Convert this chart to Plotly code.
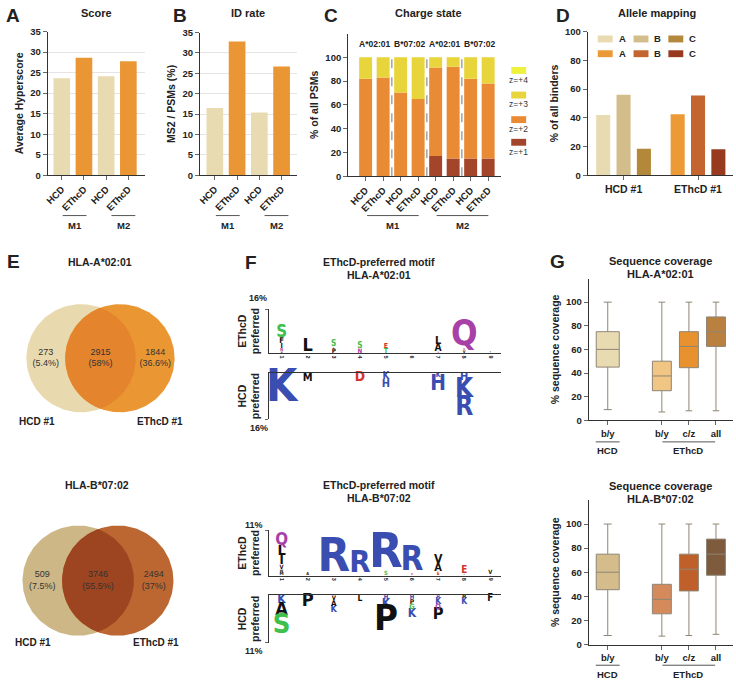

# plot.py
# Multi-panel figure: fragmentation scores, ID rate, charge state, allele mapping,
# overlap Venns, difference motifs and sequence coverage boxes.

import numpy as np
import plotly.graph_objects as go

# ── DATA ──────────────────────────────────────────────────────────────────────

FRAG = ["HCD", "EThcD", "HCD", "EThcD"]
SCORE = [23.6, 28.6, 24.1, 27.8]
ID_RATE = [16.5, 32.8, 15.4, 26.7]

CHARGE_FRAG = FRAG + FRAG
CHARGE_ALLELE = ["A*02:01", "B*07:02", "A*02:01", "B*07:02"]
Z1 = [0, 0, 0, 0, 17, 15, 15, 15]
Z2 = [82, 83, 70.5, 65, 74.5, 77, 67, 63]
Z3 = [18, 17, 29.5, 35, 8.5, 8, 18, 22]
Z4 = [0, 0, 0, 0, 0, 0, 0, 0]

BIND_GROUPS = ["HCD #1", "EThcD #1"]
BIND_A = [42, 42.5]
BIND_B = [56, 55.5]
BIND_C = [18.5, 18]

VENN_A = [273, 2915, 1844]
VENN_A_PCT = ["5.4%", "58%", "36.6%"]
VENN_B = [509, 3746, 2494]
VENN_B_PCT = ["7.5%", "55.5%", "37%"]

# motif stacks per position 1..9, (residue, % height), listed from the baseline outwards
MOTIF_A_ETHCD = [
    [("M", 0.5), ("N", 1.1), ("I", 1.8), ("F", 2.0), ("S", 4.3)],
    [("L", 4.6)],
    [("P", 1.6), ("L", 0.6), ("S", 2.1)],
    [("N", 1.6), ("S", 2.1)],
    [("T", 1.8), ("E", 1.8)],
    [],
    [("Q", 0.5), ("A", 2.6), ("L", 2.8)],
    [("V", 1.0), ("N", 0.6), ("Q", 8.9)],
    [("T", 0.4), ("V", 0.4)],
]
MOTIF_A_HCD = [
    [("S", 0.3), ("K", 11.0)],
    [("Q", 0.3), ("M", 2.7)],
    [],
    [("D", 3.4)],
    [("K", 2.4), ("H", 2.7)],
    [],
    [("K", 1.7), ("H", 5.1)],
    [("H", 2.7), ("K", 6.4), ("R", 6.4)],
    [],
]
MOTIF_B_ETHCD = [
    [("M", 0.8), ("W", 0.6), ("V", 1.0), ("I", 2.2), ("L", 2.5), ("Q", 2.9)],
    [("A", 0.7)],
    [("R", 8.1)],
    [("R", 5.3)],
    [("S", 1.0), ("R", 8.4)],
    [("E", 0.5), ("R", 5.7)],
    [("E", 0.8), ("A", 1.9), ("V", 2.1)],
    [("L", 0.3), ("E", 1.7)],
    [("Q", 0.2), ("V", 1.0)],
]
MOTIF_B_HCD = [
    [("K", 2.0), ("A", 3.0), ("S", 4.5)],
    [("P", 3.0)],
    [("G", 0.3), ("V", 1.0), ("A", 1.3), ("K", 1.5)],
    [("L", 1.4)],
    [("H", 1.0), ("K", 2.0), ("P", 6.0)],
    [("H", 1.0), ("P", 1.1), ("G", 1.2), ("K", 2.0)],
    [("H", 0.7), ("K", 1.4), ("Q", 1.2), ("P", 2.7)],
    [("M", 0.7), ("K", 1.4)],
    [("F", 1.6)],
]
MOTIF_POS = list(range(1, 10))

COV_CATS = ["HCD b/y", "EThcD b/y", "EThcD c/z", "EThcD all"]
COV_TICKS = ["b/y", "b/y", "c/z", "all"]
COV_A_MIN = [9, 7, 8, 8]
COV_A_Q1 = [45, 25, 44.5, 62.5]
COV_A_MED = [60, 37.5, 62.5, 75]
COV_A_Q3 = [75, 50, 75, 87.5]
COV_A_MAX = [100, 100, 100, 100]
COV_B_MIN = [7.5, 7, 7.5, 8.5]
COV_B_Q1 = [45.5, 25.5, 44.5, 57.5]
COV_B_MED = [60, 37.5, 62.5, 75]
COV_B_Q3 = [75, 50, 75, 87.5]
COV_B_MAX = [100, 100, 100, 100]

# ── STYLE ─────────────────────────────────────────────────────────────────────

W, H = 736, 684
FONT = "Liberation Sans, Arial, sans-serif"
NARROW = "Liberation Sans Narrow, DejaVu Sans Condensed, Liberation Sans, sans-serif"
INK = "#222222"

HCD_C = "#E9DBB1"
ETH_C = "#EA9634"
Z_COLORS = ["#A3452A", "#E98B34", "#E8D53C", "#EEF23C"]
D_HCD = ["#E9DBB1", "#D3BD8B", "#B3883A"]
D_ETH = ["#EC9A36", "#C4642F", "#983A20"]
VENN_A_COLORS = ["#E9D9AF", "#EA9733", "#E4842D"]
VENN_B_COLORS = ["#CEB786", "#BC6631", "#9D4521"]
COV_A_COLORS = ["#E9DBB1", "#F1C583", "#E8922F", "#B98040"]
COV_B_COLORS = ["#D4BD8B", "#D58A5C", "#BF5F2A", "#7E5B3D"]

AA_COLOR = {}
for aa in "GSTYC":
    AA_COLOR[aa] = "#3FBF4C"
for aa in "NQ":
    AA_COLOR[aa] = "#A741A7"
for aa in "DE":
    AA_COLOR[aa] = "#D8322C"
for aa in "KRH":
    AA_COLOR[aa] = "#3A4DB1"
for aa in "AVLIPWFM":
    AA_COLOR[aa] = "#111111"

VENN_GAP = 0.71  # centre distance / radius


def xdom(a, b):
    return [a / W, b / W]


def ydom(top, bottom):
    return [1 - bottom / H, 1 - top / H]


def axis(**kw):
    base = dict(
        showline=True, linecolor="#333333", linewidth=1,
        ticks="outside", ticklen=4, tickwidth=1, tickcolor="#666666",
        tickfont=dict(family=FONT, size=9.5, color=INK, weight="bold"),
        showgrid=False, zeroline=False, fixedrange=True,
    )
    base.update(kw)
    return base


def ytitle(text, standoff=4):
    return dict(text=text, font=dict(family=FONT, size=10.5, color=INK, weight="bold"), standoff=standoff)


annotations = []
shapes = []


def label(x, y, text, size=10.5, bold=True, anchor="center", color=INK):
    annotations.append(dict(
        x=x / W, y=1 - y / H, xref="paper", yref="paper", showarrow=False,
        text=f"<b>{text}</b>" if bold else text, xanchor=anchor, yanchor="middle",
        font=dict(family=FONT, size=size, color=color),
    ))


def hline(x0, x1, y, color="#555555"):
    shapes.append(dict(type="line", xref="paper", yref="paper",
                       x0=x0 / W, x1=x1 / W, y0=1 - y / H, y1=1 - y / H,
                       line=dict(color=color, width=1)))


def box(x0, x1, y0, y1, color):
    shapes.append(dict(type="rect", xref="paper", yref="paper",
                       x0=x0 / W, x1=x1 / W, y0=1 - y1 / H, y1=1 - y0 / H,
                       fillcolor=color, line=dict(width=0)))


fig = go.Figure()

# ── A / B: score and ID rate ──────────────────────────────────────────────────

frag_colors = [HCD_C if f == "HCD" else ETH_C for f in FRAG]
fig.add_trace(go.Bar(x=list(range(len(FRAG))), y=SCORE, marker=dict(color=frag_colors, line=dict(width=0)),
                     width=0.75, xaxis="x", yaxis="y", hoverinfo="skip"))
fig.add_trace(go.Bar(x=list(range(len(FRAG))), y=ID_RATE, marker=dict(color=frag_colors, line=dict(width=0)),
                     width=0.75, xaxis="x2", yaxis="y2", hoverinfo="skip"))

# ── C: charge state (stacked through base) ────────────────────────────────────

z_stack = np.array([Z1, Z2, Z3, Z4], dtype=float)
z_base = np.vstack([np.zeros(len(Z1)), np.cumsum(z_stack, axis=0)[:-1]])
for i in range(4):
    fig.add_trace(go.Bar(x=list(range(len(Z1))), y=z_stack[i], base=z_base[i], width=0.74,
                         marker=dict(color=Z_COLORS[i], line=dict(width=0)), offsetgroup="charge",
                         xaxis="x3", yaxis="y3", hoverinfo="skip"))

# ── D: allele mapping ─────────────────────────────────────────────────────────

for i, vals in enumerate([BIND_A, BIND_B, BIND_C]):
    fig.add_trace(go.Bar(x=BIND_GROUPS, y=vals, marker=dict(color=[D_HCD[i], D_ETH[i]], line=dict(width=0)),
                         offsetgroup=f"allele{i}", xaxis="x4", yaxis="y4", hoverinfo="skip"))

# ── E: Venn diagrams ──────────────────────────────────────────────────────────


def venn(counts, pcts, colors, xa, ya):
    half = VENN_GAP / 2
    t = np.linspace(0, 2 * np.pi, 181)
    fig.add_trace(go.Scatter(x=-half + np.cos(t), y=np.sin(t), fill="toself", fillcolor=colors[0],
                             mode="lines", line=dict(width=0), xaxis=xa, yaxis=ya, hoverinfo="skip"))
    fig.add_trace(go.Scatter(x=half + np.cos(t), y=np.sin(t), fill="toself", fillcolor=colors[1],
                             mode="lines", line=dict(width=0), xaxis=xa, yaxis=ya, hoverinfo="skip"))
    a = np.arccos(half)
    t1 = np.linspace(-a, a, 90)
    t2 = np.linspace(np.pi - a, np.pi + a, 90)
    lx = np.concatenate([-half + np.cos(t1), half + np.cos(t2)])
    ly = np.concatenate([np.sin(t1), np.sin(t2)])
    fig.add_trace(go.Scatter(x=lx, y=ly, fill="toself", fillcolor=colors[2], mode="lines",
                             line=dict(width=0), xaxis=xa, yaxis=ya, hoverinfo="skip"))
    # region centres: left-only, lens, right-only
    cx = [-1.0, 0.0, 1.0]
    fig.add_trace(go.Scatter(x=cx, y=[0, 0, 0], mode="text",
                             text=[f"{c}<br>({p})" for c, p in zip(counts, pcts)],
                             textfont=dict(family=FONT, size=9, color="#333333"),
                             xaxis=xa, yaxis=ya, hoverinfo="skip"))


venn(VENN_A, VENN_A_PCT, VENN_A_COLORS, "x5", "y5")
venn(VENN_B, VENN_B_PCT, VENN_B_COLORS, "x6", "y6")

# ── F: difference motifs ──────────────────────────────────────────────────────


def motif(stacks, sign, px_per_unit, xa, ya):
    by_color = {}
    for pos, stack in zip(MOTIF_POS, stacks):
        level = 0.0
        for aa, h in stack:
            mid = level + h / 2
            level += h
            d = by_color.setdefault(AA_COLOR[aa], dict(x=[], y=[], t=[], s=[]))
            d["x"].append(pos)
            d["y"].append(sign * mid)
            d["t"].append(aa)
            d["s"].append(max(h * px_per_unit / 0.72, 1))
    for color, d in by_color.items():
        fig.add_trace(go.Scatter(x=d["x"], y=d["y"], text=d["t"], mode="text",
                                 textfont=dict(family=NARROW, size=d["s"], color=color, weight="bold"),
                                 cliponaxis=False, xaxis=xa, yaxis=ya, hoverinfo="skip"))


motif(MOTIF_A_ETHCD, 1, 45 / 16, "x7", "y7")
motif(MOTIF_A_HCD, -1, 47 / 16, "x8", "y8")
motif(MOTIF_B_ETHCD, 1, 46 / 11, "x9", "y9")
motif(MOTIF_B_HCD, -1, 48 / 11, "x10", "y10")

# ── G: sequence coverage boxes ────────────────────────────────────────────────


def coverage(mins, q1s, meds, q3s, maxs, colors, xa, ya):
    for i, cat in enumerate(COV_CATS):
        fig.add_trace(go.Box(
            x=[cat], q1=[q1s[i]], median=[meds[i]], q3=[q3s[i]],
            lowerfence=[mins[i]], upperfence=[maxs[i]],
            fillcolor=colors[i], line=dict(color="#8f8575", width=1),
            width=0.85 if i == 0 else 0.7, whiskerwidth=0.35, boxpoints=False,
            xaxis=xa, yaxis=ya, hoverinfo="skip",
        ))


coverage(COV_A_MIN, COV_A_Q1, COV_A_MED, COV_A_Q3, COV_A_MAX, COV_A_COLORS, "x11", "y11")
coverage(COV_B_MIN, COV_B_Q1, COV_B_MED, COV_B_Q3, COV_B_MAX, COV_B_COLORS, "x12", "y12")

# ── AXES ──────────────────────────────────────────────────────────────────────

grid = dict(showgrid=True, gridcolor="#e4e4e4", gridwidth=1)
rot = dict(tickangle=-45, tickfont=dict(family=FONT, size=9.5, color=INK, weight="bold"))
cov_order = [COV_CATS[0], "gap", *COV_CATS[1:]]
hidden = dict(visible=False, fixedrange=True)
motif_x = dict(range=[0.5, 9.42], ticks="", tickvals=MOTIF_POS, tickangle=90,
               tickfont=dict(family=FONT, size=5.5, color=INK, weight="bold"))

layout_axes = dict(
    xaxis=axis(domain=xdom(44, 142), anchor="y", range=[-0.63, 3.76], tickvals=list(range(4)), ticktext=FRAG, **rot),
    yaxis=axis(domain=ydom(26, 172), anchor="x", range=[0, 35], dtick=5, title=ytitle("Average Hyperscore"), **grid),
    xaxis2=axis(domain=xdom(197, 295), anchor="y2", range=[-0.67, 3.71], tickvals=list(range(4)), ticktext=FRAG, **rot),
    yaxis2=axis(domain=ydom(27, 172), anchor="x2", range=[0, 35], dtick=5, title=ytitle("MS2 / PSMs (%)"), **grid),
    xaxis3=axis(domain=xdom(346, 500), anchor="y3", range=[-1.0, 7.75], tickvals=list(range(8)), ticktext=CHARGE_FRAG, **rot),
    yaxis3=axis(domain=ydom(28, 173), anchor="x3", range=[0, 120], tickvals=[0, 20, 40, 60, 80, 100],
                title=ytitle("% of all PSMs")),
    xaxis4=axis(domain=xdom(587, 733), anchor="y4", type="category", range=[-0.48, 1.47],
                tickfont=dict(family=FONT, size=10.5, color=INK, weight="bold")),
    yaxis4=axis(domain=ydom(26, 172), anchor="x4", range=[0, 100], dtick=20, title=ytitle("% of all binders")),
    xaxis5=dict(domain=xdom(7, 187), anchor="y5", range=[-90 / 55, 90 / 55], **hidden),
    yaxis5=dict(domain=ydom(293, 423), anchor="x5", range=[-65 / 55, 65 / 55], **hidden),
    xaxis6=dict(domain=xdom(4.5, 184.5), anchor="y6", range=[-90 / 56, 90 / 56], **hidden),
    yaxis6=dict(domain=ydom(519, 649), anchor="x6", range=[-65 / 56, 65 / 56], **hidden),
    xaxis7=axis(domain=xdom(266, 500), anchor="y7", **motif_x),
    yaxis7=axis(domain=ydom(308, 353), anchor="x7", range=[0, 16], tickvals=[16], ticklen=3, showticklabels=False,
                title=ytitle("EThcD<br>preferred", 2)),
    xaxis8=axis(domain=xdom(266, 500), anchor="y8", side="top", range=[0.5, 9.42], ticks="", showticklabels=False),
    yaxis8=axis(domain=ydom(373, 420), anchor="x8", range=[-16, 0], tickvals=[-16], ticklen=3, showticklabels=False,
                title=ytitle("HCD<br>preferred", 2)),
    xaxis9=axis(domain=xdom(266, 500), anchor="y9", **motif_x),
    yaxis9=axis(domain=ydom(533, 579), anchor="x9", range=[0, 11], tickvals=[11], ticklen=3, showticklabels=False,
                title=ytitle("EThcD<br>preferred", 2)),
    xaxis10=axis(domain=xdom(266, 500), anchor="y10", side="top", range=[0.5, 9.42], ticks="", showticklabels=False),
    yaxis10=axis(domain=ydom(599, 647), anchor="x10", range=[-11, 0], tickvals=[-11], ticklen=3, showticklabels=False,
                 title=ytitle("HCD<br>preferred", 2)),
    xaxis11=axis(domain=xdom(588, 733), anchor="y11", type="category", categoryorder="array", categoryarray=cov_order,
                 range=[-0.7, 4.63], tickvals=COV_CATS, ticktext=COV_TICKS),
    yaxis11=axis(domain=ydom(277, 421), anchor="x11", range=[0, 120], tickvals=[0, 20, 40, 60, 80, 100],
                 title=ytitle("% sequence coverage")),
    xaxis12=axis(domain=xdom(588, 733), anchor="y12", type="category", categoryorder="array", categoryarray=cov_order,
                 range=[-0.7, 4.63], tickvals=COV_CATS, ticktext=COV_TICKS),
    yaxis12=axis(domain=ydom(502, 649), anchor="x12", range=[0, 120], tickvals=[0, 20, 40, 60, 80, 100],
                 title=ytitle("% sequence coverage")),
)

# ── TEXT, KEYS AND DECORATION ─────────────────────────────────────────────────

for letter, x, y in [("A", 9, 10), ("B", 177, 10), ("C", 329, 10), ("D", 562, 10),
                     ("E", 10, 260), ("F", 248, 261), ("G", 557, 260)]:
    label(x, y, letter, size=19)

label(93, 7, "Score", 11)
label(245, 7, "ID rate", 11)
label(427, 7, "Charge state", 11)
label(657, 7, "Allele mapping", 11)

# method groups under A, B, C
for x0, x1, name in [(59, 83, "M1"), (108, 132, "M2"), (213, 237, "M1"), (262, 286, "M2"),
                     (365, 417, "M1"), (435, 487, "M2")]:
    hline(x0, x1, 213)
    label((x0 + x1) / 2, 223, name, 9.5)

# allele labels and separators in C
for i, allele in enumerate(CHARGE_ALLELE):
    annotations.append(dict(x=2 * i + 0.5, y=111, xref="x3", yref="y3", showarrow=False,
                            text=f"<b>{allele}</b>", font=dict(family=FONT, size=8.5, color=INK)))
    if i > 0:
        shapes.append(dict(type="line", xref="x3", yref="y3", x0=2 * i - 0.5, x1=2 * i - 0.5, y0=0, y1=101,
                           line=dict(color="#777777", width=1, dash="dash")))

# C charge key
for i, (name, yb) in enumerate([("z=+4", 62), ("z=+3", 87), ("z=+2", 112), ("z=+1", 135)]):
    box(510, 525, yb, yb + 7, Z_COLORS[3 - i])
    label(517, yb + 13, name, 8.5, bold=False, color="#333333")

# D allele key
for i, name in enumerate(["A", "B", "C"]):
    x0 = [597, 633, 668][i]
    box(x0, x0 + 15, 30, 37, D_HCD[i])
    box(x0, x0 + 15, 45, 52, D_ETH[i])
    label(x0 + 19, 33.5, name, 9.5, anchor="left")
    label(x0 + 19, 48.5, name, 9.5, anchor="left")

# E
label(97, 260, "HLA-A*02:01", 10.5)
label(33, 422, "HCD #1", 10)
label(157, 422, "EThcD #1", 10)
label(94, 487, "HLA-B*07:02", 10.5)
label(29, 647, "HCD #1", 10)
label(153, 647, "EThcD #1", 10)

# F
label(377, 260, "EThcD-preferred motif", 10.5)
label(377, 273, "HLA-A*02:01", 10.5)
label(377, 487, "EThcD-preferred motif", 10.5)
label(377, 500, "HLA-B*07:02", 10.5)
label(255, 297, "16%", 9)
label(256, 429, "16%", 9)
label(251, 527, "11%", 9)
label(251, 656, "11%", 9)

# G
label(660, 259, "Sequence coverage", 11)
label(660, 272, "HLA-A*02:01", 11)
label(660, 488, "Sequence coverage", 11)
label(660, 501, "HLA-B*07:02", 11)
for yl, yt in [(443, 452), (670, 679)]:
    hline(595, 619, yl)
    label(607, yt, "HCD", 9.5)
    hline(662, 715, yl)
    label(688, yt, "EThcD", 9.5)

fig.update_layout(
    width=W, height=H, autosize=False,
    margin=dict(l=0, r=0, t=0, b=0),
    paper_bgcolor="white", plot_bgcolor="white",
    showlegend=False,
    barmode="group", bargap=0.18, bargroupgap=0.31,
    font=dict(family=FONT, color=INK),
    annotations=annotations, shapes=shapes,
    **layout_axes,
)

# the page's default body margin would push the fixed-size figure off the window
fig.write_html("out.html", config={"displayModeBar": False},
               post_script="document.body.style.margin='0';document.body.style.overflow='hidden';")
